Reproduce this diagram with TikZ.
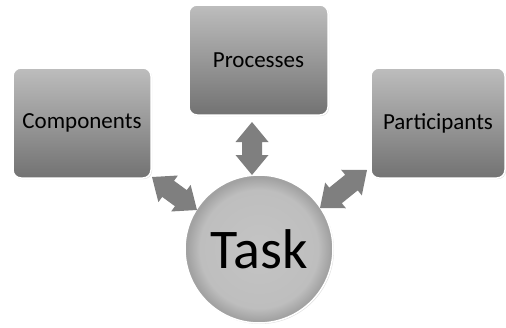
\documentclass[tikz,border=0pt]{standalone}
\usepackage{fontspec}
\setmainfont{Carlito}
\usetikzlibrary{calc,shadows}
\definecolor{boxtop}{HTML}{BDBDBD}
\definecolor{boxbot}{HTML}{727272}
\definecolor{arrowgray}{HTML}{7F7F7F}
\definecolor{circin}{HTML}{C4C4C4}
\definecolor{circmid}{HTML}{BEBEBE}
\definecolor{circout}{HTML}{A2A2A2}
\pgfdeclareradialshading{taskshade}{\pgfpoint{0bp}{0bp}}{%
  color(0bp)=(circin); color(20bp)=(circmid); color(24.2bp)=(circout); color(50bp)=(circout)}
\tikzset{
  box/.style={draw=white, line width=1.5pt, rounded corners=8pt,
    top color=boxtop, bottom color=boxbot, inner sep=0pt,
    drop shadow={opacity=0.25, shadow xshift=1pt, shadow yshift=-1pt},
    font=\fontsize{23}{26}\selectfont, text=black},
  taskc/.style={circle, draw=white, line width=1.5pt, inner sep=0pt,
    shading=taskshade,
    drop shadow={opacity=0.25, shadow xshift=1pt, shadow yshift=-1pt},
    font=\fontsize{56}{60}\selectfont, text=black},
  arrowfill/.style={fill=arrowgray}
}
\newcommand\fatarrow[2]{%
  \path ($(#1)!20pt!(#2)$) coordinate (fa1) ($(#2)!20pt!(#1)$) coordinate (fa2);
  \fill[arrowfill] (#1) -- ($(fa1)!16.5pt!90:(#1)$) -- ($(fa1)!10pt!90:(#1)$)
    -- ($(fa2)!10pt!-90:(#2)$) -- ($(fa2)!16.5pt!-90:(#2)$) -- (#2)
    -- ($(fa2)!16.5pt!90:(#2)$) -- ($(fa2)!10pt!90:(#2)$)
    -- ($(fa1)!10pt!-90:(#1)$) -- ($(fa1)!16.5pt!-90:(#1)$) -- cycle;}
\begin{document}
\begin{tikzpicture}[x=1pt,y=-1pt]
\useasboundingbox (0,0) rectangle (506,327);
\node[box, minimum width=138pt, minimum height=110pt] (comp) at (82,123) {Components};
\node[box, minimum width=139pt, minimum height=110pt] (proc) at (258.5,60) {Processes};
\node[box, minimum width=134pt, minimum height=110pt] (part) at (438,123) {Participants};
\node[taskc, minimum size=148pt] (task) at (259,249) {Task};
\coordinate (v1) at (252,122);
\coordinate (v2) at (252,175);
\coordinate (l1) at (152,177);
\coordinate (l2) at (197,210);
\coordinate (r1) at (367,170);
\coordinate (r2) at (320,208);
\fatarrow{v1}{v2}
\fatarrow{l1}{l2}
\fatarrow{r1}{r2}
\end{tikzpicture}
\end{document}
